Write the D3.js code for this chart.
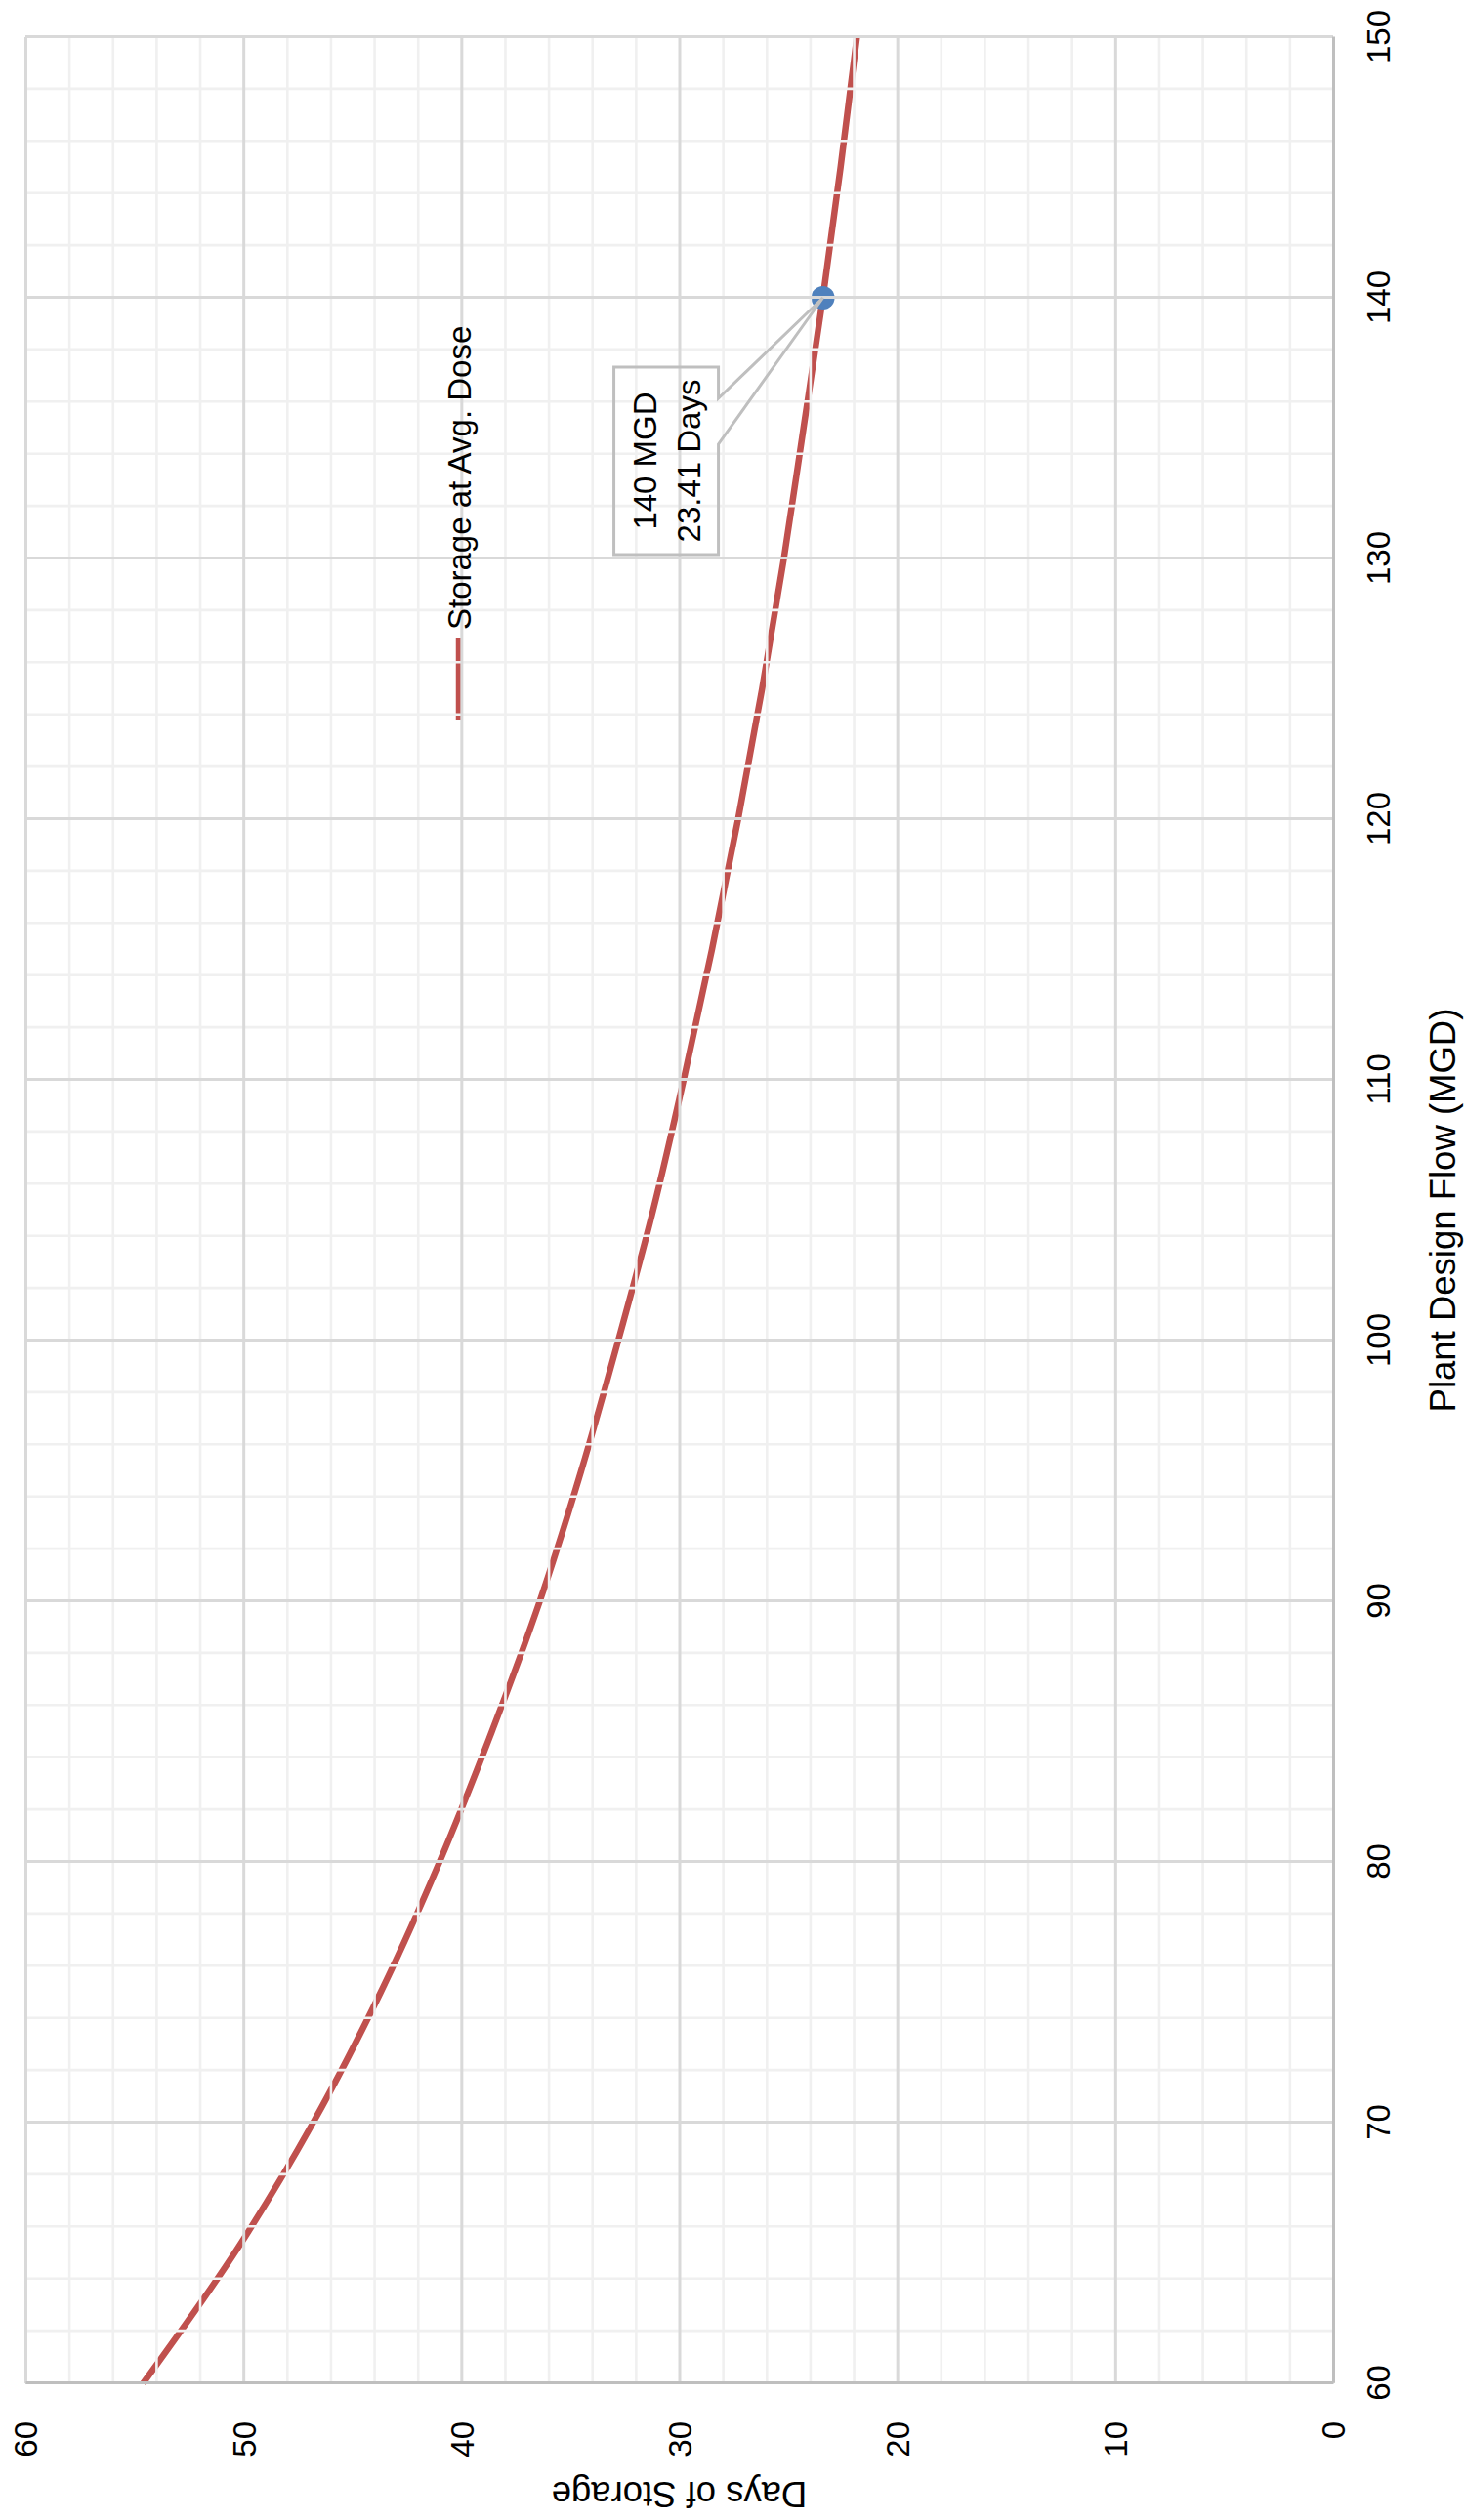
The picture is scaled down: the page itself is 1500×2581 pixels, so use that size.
<!DOCTYPE html>
<html>
<head>
<meta charset="utf-8">
<script src="https://cdn.jsdelivr.net/npm/d3@7"></script>
<style>
  body { margin: 0; background: #fff; }
  svg text { font-family: "Liberation Sans", Arial, sans-serif; fill: #000; }
</style>
</head>
<body>
<div class="storageChart"></div>
<script>
var flowMGD = [60, 65, 70, 75, 80, 85, 90, 95, 100, 105, 110, 115, 120, 125, 130, 135, 140, 145, 150];
var daysStorage = [54.6, 50.4, 46.8, 43.7, 41.0, 38.6, 36.4, 34.5, 32.8, 31.2, 29.8, 28.5, 27.3, 26.2, 25.2, 24.3, 23.41, 22.6, 21.85];
var flowTicks = [60, 70, 80, 90, 100, 110, 120, 130, 140, 150];
var daysTicks = [0, 10, 20, 30, 40, 50, 60];
var markerFlow = [140];
var markerDays = [23.41];
var calloutText = ['140 MGD', '23.41 Days'];
var seriesName = 'Storage at Avg. Dose';
var xTitle = 'Plant Design Flow (MGD)';
var yTitle = 'Days of Storage';

(function(){
  var W = 2581, H = 1500;
  var left = 140, right = 2543, top = 26, bottom = 1365;

  var svg = d3.select('.storageChart').append('svg')
    .attr('width', H).attr('height', W);

  // the whole chart is turned a quarter turn counter-clockwise
  var chart = svg.append('g').attr('transform', 'translate(0,' + W + ') rotate(-90)');

  var x = d3.scaleLinear().domain([60, 150]).range([left, right]);
  var y = d3.scaleLinear().domain([0, 60]).range([bottom, top]);

  var pts = flowMGD.map(function(f, i){ return [f, daysStorage[i]]; });

  var line = d3.line()
    .x(function(d){ return x(d[0]); })
    .y(function(d){ return y(d[1]); })
    .curve(d3.curveMonotoneX);

  chart.append('path')
    .datum(pts)
    .attr('d', line)
    .style('fill', 'none')
    .style('stroke', '#C0504D')
    .style('stroke-width', 6.5);

  chart.selectAll('circle.mark').data(markerFlow).enter()
    .append('circle')
    .attr('class', 'mark')
    .attr('cx', function(d){ return x(d); })
    .attr('cy', function(d, i){ return y(markerDays[i]); })
    .attr('r', 12)
    .style('fill', '#4F81BD');

  // legend swatch
  chart.append('line')
    .attr('x1', 1844).attr('x2', 1928).attr('y1', 470).attr('y2', 470)
    .style('stroke', '#C0504D').style('stroke-width', 6.5);

  // gridlines sit over the series
  var minorX = d3.range(60, 151, 2).filter(function(v){ return v % 10 !== 0; });
  var minorY = d3.range(0, 61, 2).filter(function(v){ return v % 10 !== 0; });

  function grid(g, color, w){
    g.select('.domain').remove();
    g.selectAll('.tick line').style('stroke', color).style('stroke-width', w);
  }

  chart.append('g').attr('transform', 'translate(0,' + bottom + ')')
    .call(d3.axisBottom(x).tickValues(minorX).tickSize(-(bottom - top)).tickFormat(''))
    .call(grid, '#F0F0F0', 2.6);
  chart.append('g').attr('transform', 'translate(' + left + ',0)')
    .call(d3.axisLeft(y).tickValues(minorY).tickSize(-(right - left)).tickFormat(''))
    .call(grid, '#F0F0F0', 2.6);
  chart.append('g').attr('transform', 'translate(0,' + bottom + ')')
    .call(d3.axisBottom(x).tickValues(flowTicks).tickSize(-(bottom - top)).tickFormat(''))
    .call(grid, '#D9D9D9', 3);
  chart.append('g').attr('transform', 'translate(' + left + ',0)')
    .call(d3.axisLeft(y).tickValues(daysTicks).tickSize(-(right - left)).tickFormat(''))
    .call(grid, '#D9D9D9', 3);

  // axis lines and labels
  var xAxis = chart.append('g').attr('transform', 'translate(0,' + bottom + ')')
    .call(d3.axisBottom(x).tickValues(flowTicks).tickSize(0).tickPadding(35));
  xAxis.select('.domain').style('stroke', '#BFBFBF').style('stroke-width', 3);
  xAxis.selectAll('text').attr('font-size', 33).style('font-family', null);

  var yAxis = chart.append('g').attr('transform', 'translate(' + left + ',0)')
    .call(d3.axisLeft(y).tickValues(daysTicks).tickSize(0).tickPadding(39));
  yAxis.select('.domain').style('stroke', '#BFBFBF').style('stroke-width', 3);
  yAxis.selectAll('text').attr('font-size', 33).attr('dy', '0.36em');
  chart.selectAll('.tick text').style('fill', '#000');
  chart.selectAll('g').attr('font-family', null);

  chart.append('text')
    .attr('x', (left + right) / 2).attr('y', 1490)
    .attr('text-anchor', 'middle')
    .attr('font-size', 36.5)
    .text(xTitle);

  chart.append('text')
    .attr('transform', 'translate(39,' + (top + bottom) / 2 + ') rotate(-90)')
    .attr('text-anchor', 'middle')
    .attr('font-size', 36.5)
    .text(yTitle);

  chart.append('text')
    .attr('x', 1936).attr('y', 470).attr('dy', '0.36em')
    .attr('font-size', 33)
    .text(seriesName);

  // data callout
  var mx = x(markerFlow[0]), my = y(markerDays[0]);
  var bl = mx - 263, br = mx - 71, bt = my - 214, bb = my - 107;
  chart.append('path')
    .attr('d', 'M' + bl + ',' + bt + 'L' + br + ',' + bt + 'L' + br + ',' + bb +
      'L' + (mx - 103) + ',' + bb + 'L' + mx + ',' + my + 'L' + (mx - 150) + ',' + bb +
      'L' + bl + ',' + bb + 'Z')
    .style('fill', 'none')
    .style('stroke', '#BFBFBF')
    .style('stroke-width', 3)
    .style('stroke-linejoin', 'miter');

  chart.selectAll('text.callout').data(calloutText).enter()
    .append('text')
    .attr('class', 'callout')
    .attr('x', (bl + br) / 2)
    .attr('y', function(d, i){ return my - 182 + i * 45; })
    .attr('dy', '0.36em')
    .attr('text-anchor', 'middle')
    .attr('font-size', 33)
    .text(function(d){ return d; });
}).call(this);
</script>
</body>
</html>
